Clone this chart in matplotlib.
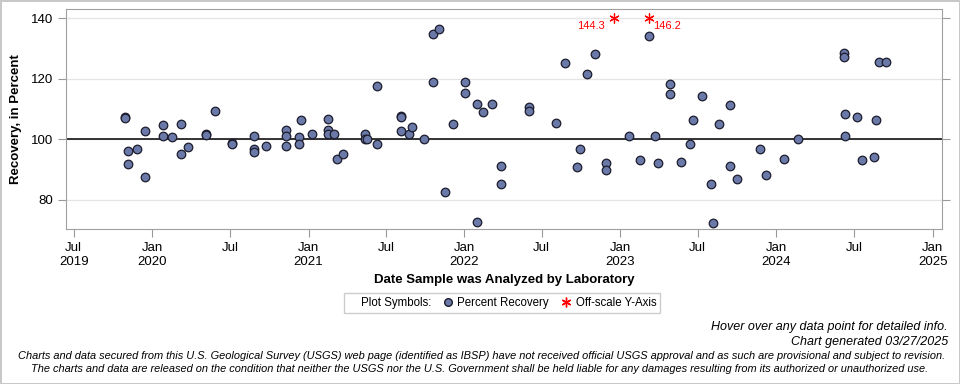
import numpy as np
import pandas as pd
import matplotlib
matplotlib.use('Agg')
import matplotlib.pyplot as plt
import matplotlib.dates as mdates
from matplotlib.lines import Line2D

plt.rcParams['font.family'] = ['Liberation Sans', 'DejaVu Sans']

# percent recovery
dates = ['2019-10-30', '2019-10-30', '2019-11-06', '2019-11-06', '2019-11-27',
         '2019-12-16', '2019-12-16', '2020-01-26', '2020-01-26', '2020-02-16',
         '2020-03-08', '2020-03-08', '2020-03-25', '2020-05-06', '2020-05-06',
         '2020-05-27', '2020-07-06', '2020-07-06', '2020-08-27', '2020-08-27',
         '2020-08-27', '2020-09-24', '2020-11-09', '2020-11-09', '2020-11-09',
         '2020-12-10', '2020-12-10', '2020-12-15', '2021-01-09', '2021-02-16',
         '2021-02-16', '2021-02-16', '2021-03-02', '2021-03-09', '2021-03-23',
         '2021-05-14', '2021-05-14', '2021-05-17', '2021-06-11', '2021-06-11',
         '2021-08-06', '2021-08-06', '2021-08-06', '2021-08-23', '2021-09-01',
         '2021-09-29', '2021-10-20', '2021-10-20', '2021-11-03', '2021-11-17',
         '2021-12-06', '2022-01-03', '2022-01-03', '2022-01-31', '2022-01-31',
         '2022-02-14', '2022-03-07', '2022-03-28', '2022-03-28', '2022-06-02',
         '2022-06-02', '2022-08-04', '2022-08-25', '2022-09-22', '2022-09-29',
         '2022-10-16', '2022-11-03', '2022-11-29', '2022-11-29', '2023-01-22',
         '2023-02-15', '2023-03-08', '2023-03-22', '2023-03-31', '2023-04-26',
         '2023-04-26', '2023-05-22', '2023-06-12', '2023-06-19', '2023-07-12',
         '2023-08-02', '2023-08-05', '2023-08-19', '2023-09-14', '2023-09-14',
         '2023-09-30', '2023-11-23', '2023-12-07', '2024-01-18', '2024-02-22',
         '2024-06-07', '2024-06-07', '2024-06-11', '2024-06-11', '2024-07-09',
         '2024-07-19', '2024-08-16', '2024-08-21', '2024-08-28', '2024-09-13']
recovery = [107.5, 107.0, 96.2, 92.0, 96.9,
            102.9, 87.7, 104.8, 101.2, 100.9,
            105.2, 95.0, 97.6, 101.8, 101.5,
            109.2, 98.8, 98.3, 101.2, 96.9,
            95.7, 97.9, 103.2, 101.2, 97.9,
            100.9, 98.6, 106.5, 101.8, 106.8,
            103.2, 101.6, 101.9, 93.6, 95.2,
            101.9, 100.2, 100.0, 117.6, 98.3,
            107.8, 107.2, 102.6, 101.6, 104.2,
            100.0, 134.6, 118.8, 136.5, 82.7,
            104.9, 118.8, 115.4, 111.8, 72.6,
            108.9, 111.5, 91.2, 85.3, 110.7,
            109.2, 105.5, 125.1, 90.9, 96.9,
            121.6, 128.2, 92.2, 90.0, 101.2,
            93.3, 134.2, 101.2, 92.3, 118.1,
            115.1, 92.6, 98.6, 106.5, 114.4,
            85.3, 72.3, 105.2, 111.4, 91.2,
            86.9, 96.9, 88.3, 93.6, 100.0,
            128.6, 127.3, 108.5, 101.2, 107.5,
            93.3, 94.3, 106.5, 125.6, 125.6]

# values above the y-axis limit
off_dates = ['2022-12-16', '2023-03-08']
off_values = [144.3, 146.2]

dates = pd.to_datetime(dates)
off_dates = pd.to_datetime(off_dates)

fig = plt.figure(figsize=(9.6, 3.84), dpi=100)
fig.patch.set_edgecolor('#c8c8c8')
fig.patch.set_linewidth(2)
ax = fig.add_axes([66/960, 1-229/384, 876/960, 220/384])

ymin, ymax = 70.4, 143.0
ax.set_ylim(ymin, ymax)
ax.set_xlim(pd.Timestamp('2019-06-13'), pd.Timestamp('2025-01-23'))

ax.axhline(100, color='black', lw=1.1, zorder=2)
ax.scatter(dates, recovery, s=38, c='#6a79a8', edgecolors='#1c1c2c',
           linewidths=0.9, zorder=3)

# off-scale points drawn at the top of the axis
ytop = 140
ax.scatter(off_dates, [ytop]*len(off_dates), marker=(6, 2, 0), s=45,
           c='red', linewidths=0.9, zorder=4)
ax.annotate(f'{off_values[0]:.1f}', (off_dates[0], ytop), xytext=(-6, -6),
            textcoords='offset points', ha='right', va='center',
            color='red', fontsize=8)
ax.annotate(f'{off_values[1]:.1f}', (off_dates[1], ytop), xytext=(3, -6),
            textcoords='offset points', ha='left', va='center',
            color='red', fontsize=8)

ax.set_yticks([80, 100, 120, 140])
ax.grid(axis='y', color='#e4e4e4', lw=0.9, zorder=0)
ax.tick_params(axis='y', which='both', right=True, direction='out',
               length=6, color='#999999', labelsize=9.5)
ax.tick_params(axis='x', direction='out', length=6, color='#999999',
               labelsize=9.5)

xt = pd.date_range('2019-07-01', '2025-01-01', freq='6MS')
ax.set_xticks(xt)
xlabels = []
for i, d in enumerate(xt):
    if i == 0 or d.month == 1:
        xlabels.append(d.strftime('%b') + '\n' + d.strftime('%Y'))
    else:
        xlabels.append(d.strftime('%b') + '\n ')
ax.set_xticklabels(xlabels)

for sp in ax.spines.values():
    sp.set_color('#a0a0a0')

ax.set_ylabel('Recovery, in Percent', fontsize=9.5, fontweight='bold', labelpad=6)
ax.set_xlabel('Date Sample was Analyzed by Laboratory', fontsize=9.5,
              fontweight='bold', labelpad=4)

handles = [Line2D([], [], linestyle='none'),
           Line2D([], [], linestyle='none', marker='o', markersize=5.5,
                  markerfacecolor='#6a79a8', markeredgecolor='#1c1c2c'),
           Line2D([], [], linestyle='none', marker=(6, 2, 0), markersize=7,
                  color='red')]
leg = fig.legend(handles, ['Plot Symbols:', 'Percent Recovery', 'Off-scale Y-Axis'],
                 loc='center', bbox_to_anchor=(502/960, 1-303/384), ncol=3,
                 fontsize=8.3, frameon=True, fancybox=False, handlelength=0.6,
                 handletextpad=0.5, columnspacing=1.2, borderpad=0.35,
                 borderaxespad=0)
leg.get_frame().set_edgecolor('#c0c0c0')
leg.get_frame().set_linewidth(1)

fig.text(948/960, 1-327/384, 'Hover over any data point for detailed info.',
         ha='right', va='center', fontsize=9, style='italic')
fig.text(948/960, 1-342/384, 'Chart generated 03/27/2025',
         ha='right', va='center', fontsize=9, style='italic')
fig.text(482/960, 1-356/384,
         'Charts and data secured from this U.S. Geological Survey (USGS) web page '
         '(identified as IBSP) have not received official USGS approval and as such '
         'are provisional and subject to revision.',
         ha='center', va='center', fontsize=7.96, style='italic')
fig.text(480/960, 1-369/384,
         'The charts and data are released on the condition that neither the USGS '
         'nor the U.S. Government shall be held liable for any damages resulting '
         'from its authorized or unauthorized use.',
         ha='center', va='center', fontsize=7.96, style='italic')

fig.savefig('out.png', dpi=100)
